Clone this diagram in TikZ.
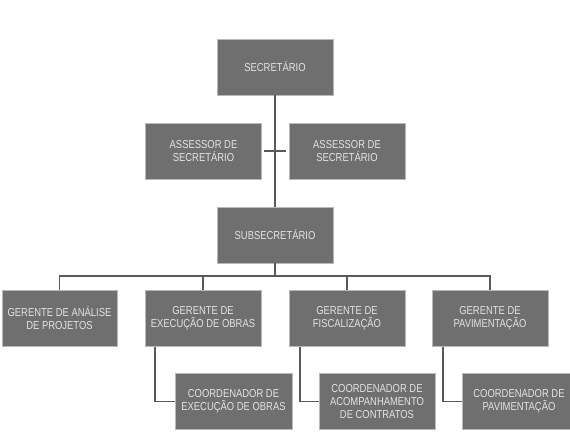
\documentclass[tikz,border=0pt]{standalone}
\usepackage{fontspec}
\setmainfont{Liberation Sans}[FakeStretch=0.82]
\definecolor{boxgray}{HTML}{6F6F6F}
\definecolor{edgegray}{HTML}{B8B8B8}
\definecolor{linegray}{HTML}{5A5A5A}
\definecolor{textgray}{HTML}{E4E4E4}
\begin{document}
\begin{tikzpicture}[x=1pt,y=-1pt,
  box/.style={draw=edgegray, fill=boxgray, text=textgray, line width=0.6pt,
    minimum width=116pt, minimum height=56pt, inner sep=0pt, align=center,
    font=\fontsize{11.5}{13}\selectfont},
  link/.style={draw=linegray, line width=1.4pt}]
\useasboundingbox[fill=white] (0,0) rectangle (570,443);
%Top
\node[box] (sec) at (275,67) {SECRETÁRIO};
\node[box] (ass1) at (203.5,151) {ASSESSOR DE\\SECRETÁRIO};
\node[box] (ass2) at (347,151) {ASSESSOR DE\\SECRETÁRIO};
\node[box] (sub) at (275,235) {SUBSECRETÁRIO};
\draw[link] (sec.south) -- (sub.north);
\draw[link] ([xshift=2pt]ass1.east) -- ([xshift=-3pt]ass2.west);
%Gerentes
\node[box, minimum width=115pt] (g1) at (59.5,318.5) {GERENTE DE ANÁLISE\\DE PROJETOS};
\node[box] (g2) at (203,318.5) {GERENTE DE\\EXECUÇÃO DE OBRAS};
\node[box] (g3) at (347,318.5) {GERENTE DE\\FISCALIZAÇÃO};
\node[box] (g4) at (490,318.5) {GERENTE DE\\PAVIMENTAÇÃO};
\coordinate (bus) at (275,276);
\draw[link] (sub.south) -- (bus);
\draw[link] (g1.north) |- (bus) -| (g4.north);
\draw[link] (g2.north) -- (g2.north |- bus);
\draw[link] (g3.north) -- (g3.north |- bus);
%Coordenadores
\node[box, minimum width=117pt] (c1) at (233.5,401.5) {COORDENADOR DE\\EXECUÇÃO DE OBRAS};
\node[box] (c2) at (377,401.5) {COORDENADOR DE\\ACOMPANHAMENTO\\DE CONTRATOS};
\node[box, minimum width=114pt] (c3) at (519,401.5) {COORDENADOR DE\\PAVIMENTAÇÃO};
\draw[link] ([xshift=-48pt]g2.south) |- (c1.west);
\draw[link] ([xshift=-47pt]g3.south) |- (c2.west);
\draw[link] ([xshift=-47pt]g4.south) |- (c3.west);
\end{tikzpicture}
\end{document}
